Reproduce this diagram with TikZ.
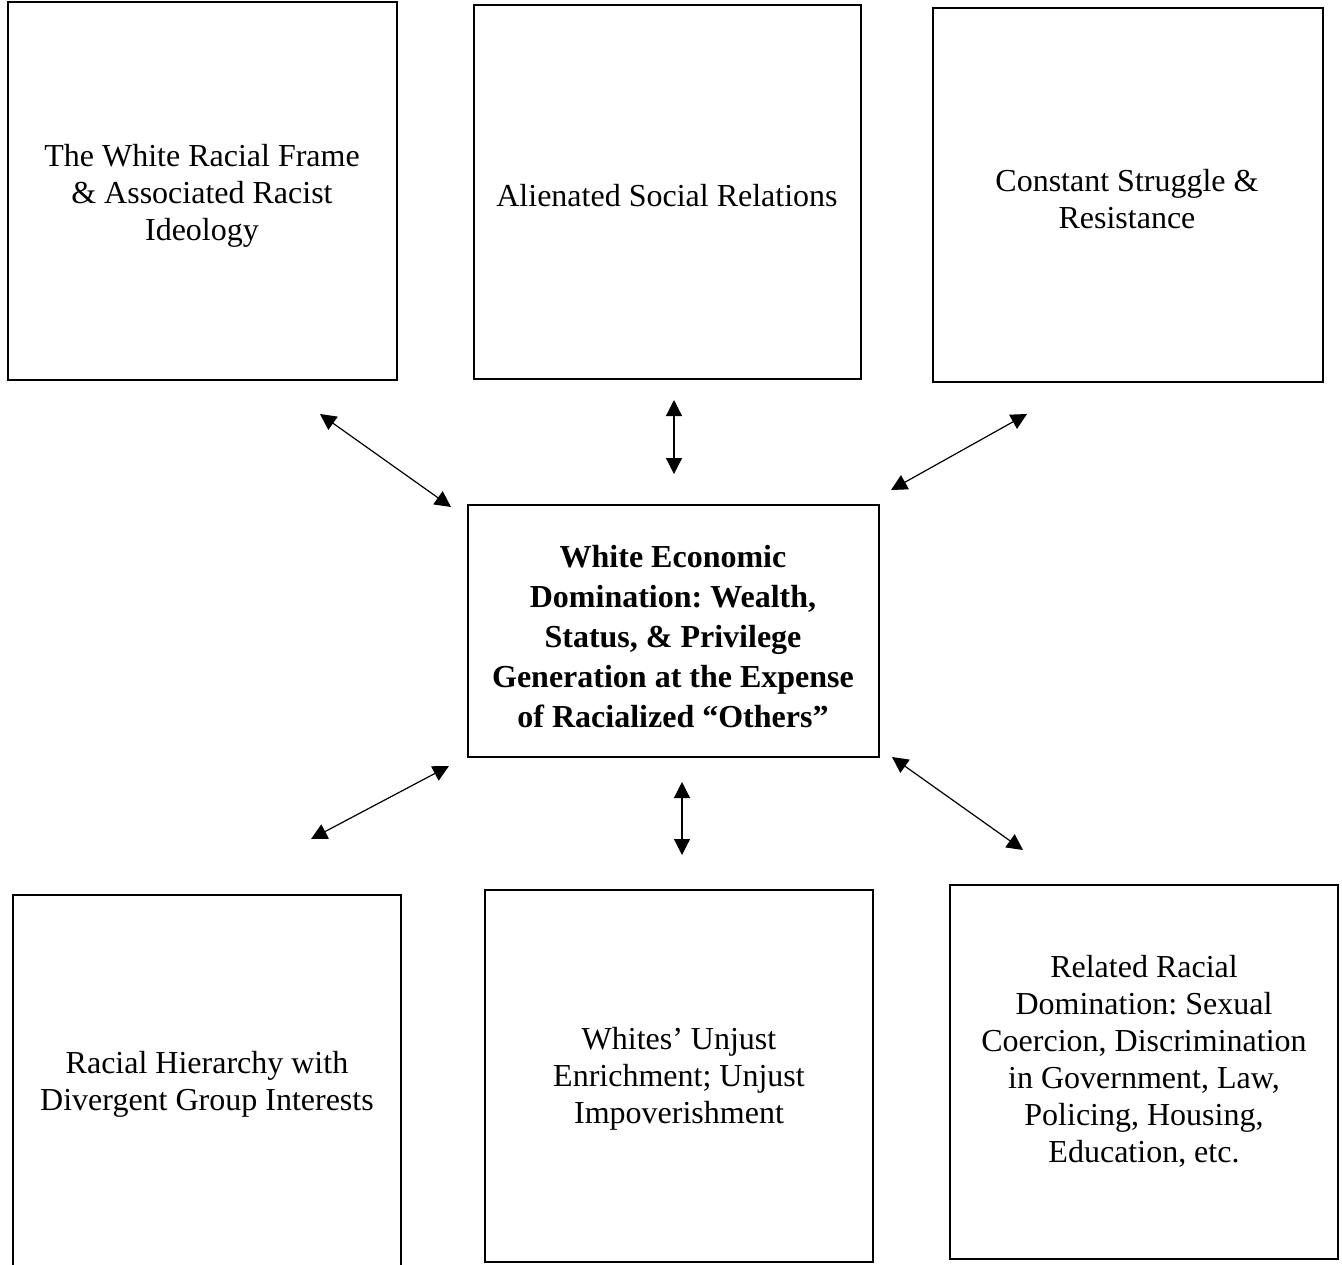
\documentclass[tikz,border=0pt]{standalone}
\usepackage{fontspec}
\setmainfont{Liberation Serif}
\usetikzlibrary{arrows.meta}
\frenchspacing
\begin{document}
\begin{tikzpicture}[x=0.75pt,y=-0.75pt,
  box/.style={draw=black, line width=1.5pt, fill=none},
  txt/.style={align=center, font=\fontsize{24}{27.75}\selectfont, inner sep=0pt},
  ctxt/.style={align=center, font=\fontsize{24}{30}\selectfont\bfseries, inner sep=0pt},
  link/.style={line width=0.9pt, {Triangle[length=12pt,width=12pt]}-{Triangle[length=12pt,width=12pt]}}]
\useasboundingbox (0,0) rectangle (1342,1264);
\begin{scope}
\clip (0,0) rectangle (1342,1264);
% boxes
\draw[box] (8,2) rectangle (397,380) node[pos=0.5] (b1) {};
\draw[box] (474,5) rectangle (861,379) node[pos=0.5] (b2) {};
\draw[box] (933,8) rectangle (1323,382) node[pos=0.5] (b3) {};
\draw[box] (468,505) rectangle (879,757) node[pos=0.5] (c) {};
\draw[box] (13,895) rectangle (401,1280) node[pos=0.5] (b4) {};
\draw[box] (485,890) rectangle (873,1262) node[pos=0.5] (b5) {};
\draw[box] (950,885) rectangle (1338,1259) node[pos=0.5] (b6) {};
\end{scope}
% texts
\node[txt] (t1) at (202,196) {The White Racial Frame\\ \& Associated Racist\\ Ideology};
\node[txt] (t2) at (667,196) {Alienated Social Relations};
\node[txt] (t3) at (1127,199) {Constant Struggle \&\\ Resistance};
\node[ctxt] (tc) at (673,637) {White Economic\\ Domination: Wealth,\\ Status, \& Privilege\\ Generation at the Expense\\ of Racialized “Others”};
\node[txt] (t4) at (207,1084) {Racial Hierarchy with\\ Divergent Group Interests};
\node[txt] (t5) at (679,1079) {Whites’ Unjust\\ Enrichment; Unjust\\ Impoverishment};
\node[txt] (t6) at (1144,1061) {Related Racial\\ Domination: Sexual\\ Coercion, Discrimination\\ in Government, Law,\\ Policing, Housing,\\ Education, etc.};
% arrow end points
\coordinate (a1s) at (320,414); \coordinate (a1e) at (451,507);
\coordinate (a2s) at (674,400); \coordinate (a2e) at (674,474);
\coordinate (a3s) at (1027,414); \coordinate (a3e) at (891,490);
\coordinate (a4s) at (449,766); \coordinate (a4e) at (311,839);
\coordinate (a5s) at (682,782); \coordinate (a5e) at (682,855);
\coordinate (a6s) at (892,757); \coordinate (a6e) at (1023,850);
\draw[link] (a1s) -- (a1e);
\draw[link] (a2s) -- (a2e);
\draw[link] (a3s) -- (a3e);
\draw[link] (a4s) -- (a4e);
\draw[link] (a5s) -- (a5e);
\draw[link] (a6s) -- (a6e);
\end{tikzpicture}
\end{document}
